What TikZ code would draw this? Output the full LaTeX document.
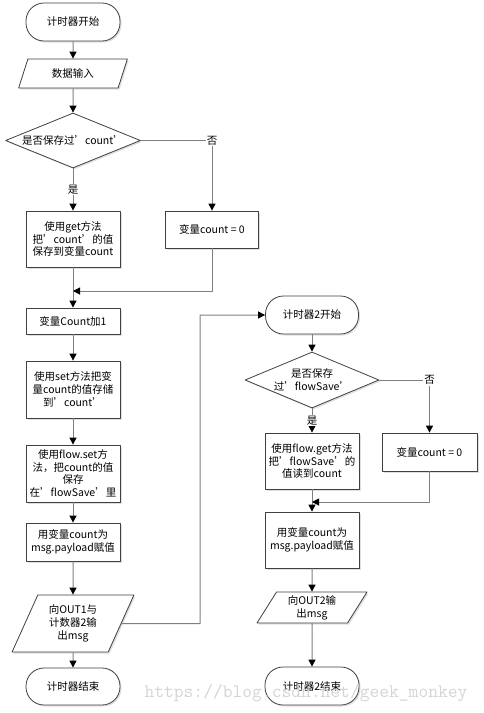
\documentclass[tikz,border=0pt]{standalone}
\usepackage{fontspec}
\setmainfont{Noto Sans CJK SC}
\usetikzlibrary{arrows.meta,shapes.geometric,shadows}
\definecolor{fcline}{HTML}{7F7F7F}
\definecolor{fcedge}{HTML}{404040}
\definecolor{fcmark}{HTML}{D4D4D4}

\begin{document}
\begin{tikzpicture}[x=1pt, y=-1pt, line join=round,
  font=\fontsize{10.5}{12.8}\selectfont,
  base/.style={draw=fcedge, line width=0.8pt, fill=white, align=center,
    inner sep=2pt,
    drop shadow={shadow xshift=1.5pt, shadow yshift=-1.5pt, opacity=0.25}},
  term/.style={base, rectangle, rounded corners=18pt,
    minimum width=94pt, minimum height=38pt},
  proc/.style={base, rectangle, minimum width=94pt},
  io/.style={base, trapezium, trapezium stretches=true,
    trapezium left angle=#1, trapezium right angle=180-#1},
  decide/.style={base, diamond, inner sep=0pt, aspect=2.45,
    minimum width=135pt, minimum height=55pt},
  flow/.style={fcline, line width=1pt,
    -{Triangle[width=7pt,length=7pt,color=black]}},
  lbl/.style={fill=white, text=black, inner sep=1pt},
  wm/.style={text=fcmark, font=\ttfamily\fontsize{19}{19}\selectfont}]
  \useasboundingbox (0,0) rectangle (483,713);
  % left column, x = 73
  \node[term] (start) at (73,22) {计时器开始};
  \node[io=71, minimum width=109pt, minimum height=29pt] (input) at (73,73.5)
    {数据输入};
  \node[decide] (ask) at (73,140.5) {是否保存过’count’};
  \node[proc, minimum height=56pt] (getval) at (73,239)
    {使用get方法\\把’count’的值\\保存到变量count};
  \node[proc, minimum width=93pt, minimum height=37pt] (zero) at (212,229.5)
    {变量count = 0};
  \node[proc, minimum height=26pt] (incr) at (73,321) {变量Count加1};
  \node[proc, minimum height=57pt] (setval) at (73,389.5)
    {使用set方法把变\\量count的值存储\\到’count'};
  \node[proc, minimum height=57pt] (flowset) at (73,473.5)
    {使用flow.set方\\法，把count的值\\保存\\在’flowSave’里};
  \node[proc, minimum height=38pt] (payload) at (73,542)
    {用变量count为\\msg.payload赋值};
  \node[io=65, minimum width=122pt, minimum height=57pt] (out1) at (73,623.5)
    {向OUT1与\\计数器2输\\出msg};
  \node[term, minimum height=37pt] (stop) at (73,686.5) {计时器结束};
  % right column, x = 312
  \node[term, minimum width=93pt] (start2) at (312,315) {计时器2开始};
  \node[decide, minimum width=134pt, minimum height=56pt] (ask2) at (312,380)
    {是否保存\\过’flowSave’};
  \node[proc, minimum height=56pt] (getflow) at (312,461)
    {使用flow.get方法\\把’flowSave’的\\值读到count};
  \node[proc, minimum width=95pt, minimum height=38pt] (zero2) at (429.5,452)
    {变量count = 0};
  \node[proc, minimum height=56pt] (payload2) at (312,540)
    {用变量count为\\msg.payload赋值};
  \node[io=63, minimum width=110pt, minimum height=31pt] (out2) at (312,607.5)
    {向OUT2输\\出msg};
  \node[term] (stop2) at (312,686) {计时器2结束};
  \coordinate (join1) at (73,291);
  \coordinate (join2) at (312,502);
  \coordinate (jog) at (200,623.5);
  % connectors
  \draw[flow] (start) -- (input);
  \draw[flow] (input) -- (ask);
  \draw[flow] (ask) -- node[lbl] (yes1) {是} (getval);
  \draw[flow] (ask.east) -| node[lbl] (no1) {否} (zero.north);
  \draw[flow] (getval) -- (incr);
  \draw[flow] (zero.south) |- (join1);
  \draw[flow] (incr) -- (setval);
  \draw[flow] (setval) -- (flowset);
  \draw[flow] (flowset) -- (payload);
  \draw[flow] (payload) -- (out1);
  \draw[flow] (out1) -- (stop);
  \draw[flow] (out1.east) -- (jog) |- (start2.west);
  \draw[flow] (start2) -- (ask2);
  \draw[flow] (ask2) -- node[lbl] (yes2) {是} (getflow);
  \draw[flow] (ask2.east) -| node[lbl] (no2) {否} (zero2.north);
  \draw[flow] (getflow) -- (payload2);
  \draw[flow] (zero2.south) |- (join2);
  \draw[flow] (payload2) -- (out2);
  \draw[flow] (out2) -- (stop2);
  \node[wm] (mark) at (306,693) {https://blog.csdn.net/geek\_monkey};
\end{tikzpicture}
\end{document}
